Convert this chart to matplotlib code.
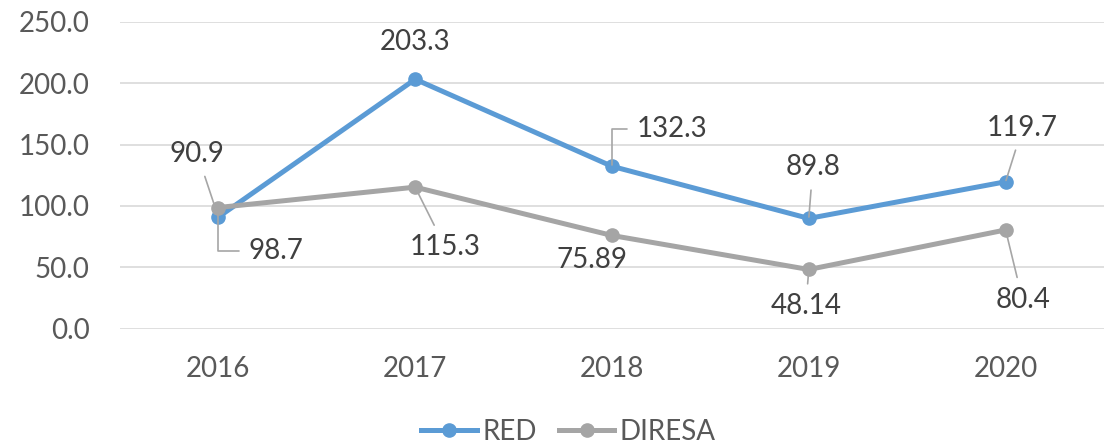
import matplotlib.pyplot as plt

years = ['2016', '2017', '2018', '2019', '2020']
red = [90.9, 203.3, 132.3, 89.8, 119.7]
diresa = [98.7, 115.3, 75.89, 48.14, 80.4]
red_labels = ['90.9', '203.3', '132.3', '89.8', '119.7']
diresa_labels = ['98.7', '115.3', '75.89', '48.14', '80.4']

# label offsets in pixels (dx, dy up), leader line style (None = no line)
red_off = [(-21, 63), (0, 37), (60, 37), (4, 51), (17, 54)]
red_lead = ['arc3', None, 'angle,angleA=0,angleB=90,rad=0', 'arc3', 'arc3']
diresa_off = [(58, -43), (30, -60), (-20, -25), (-3, -37), (17, -70)]
diresa_lead = ['angle,angleA=0,angleB=90,rad=0', 'arc3', None, 'arc3', 'arc3']

plt.rcParams['font.family'] = ['Lato', 'DejaVu Sans']

fig = plt.figure(figsize=(11.19, 4.46), dpi=100)
ax = fig.add_axes([0.1072, 0.2634, 0.8794, 0.6873])

x = list(range(len(years)))
blue = '#5B9BD5'
gray = '#A5A5A5'
ax.plot(x, red, color=blue, lw=3.6, marker='o', ms=9.5, label='RED', zorder=3)
ax.plot(x, diresa, color=gray, lw=3.6, marker='o', ms=9.5, label='DIRESA', zorder=3)

px = 72 / 100


def put_labels(vals, labels, offs, leads):
    for i, (v, t, o, ld) in enumerate(zip(vals, labels, offs, leads)):
        kw = {}
        if ld:
            kw['arrowprops'] = dict(arrowstyle='-', color='#A6A6A6', lw=1.2,
                                    shrinkA=5, shrinkB=1, connectionstyle=ld)
        ax.annotate(t, (i, v), xytext=(o[0] * px, o[1] * px),
                    textcoords='offset points', ha='center', va='center',
                    fontsize=20, color='#404040', zorder=4, **kw)


put_labels(red, red_labels, red_off, red_lead)
put_labels(diresa, diresa_labels, diresa_off, diresa_lead)

ax.set_xlim(-0.5, 4.5)
ax.set_ylim(0, 250)
ax.set_yticks([0, 50, 100, 150, 200, 250])
ax.set_yticklabels([f'{v:.1f}' for v in [0, 50, 100, 150, 200, 250]])
ax.set_xticks(x)
ax.set_xticklabels(years)
ax.grid(axis='y', color='#D9D9D9', lw=1.2)
ax.set_axisbelow(True)
for s in ax.spines.values():
    s.set_visible(False)
ax.tick_params(axis='y', length=0, pad=22, labelsize=20, labelcolor='#595959')
ax.tick_params(axis='x', length=0, pad=20, labelsize=20, labelcolor='#595959')

fig.legend(loc='center', bbox_to_anchor=(0.508, 0.031), ncol=2, frameon=False,
           fontsize=20, labelcolor='#595959', handlelength=2.0,
           handletextpad=0.2, columnspacing=0.8)

fig.savefig('out.png', dpi=100)
